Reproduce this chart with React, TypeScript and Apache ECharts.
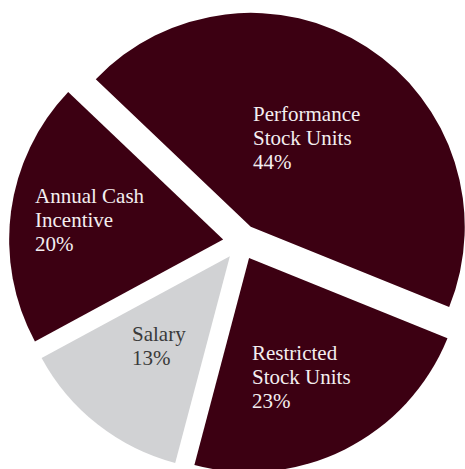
import React, { useEffect, useRef } from "react";
import * as echarts from "echarts";

const categories = [
  "Performance\nStock Units",
  "Restricted\nStock Units",
  "Salary",
  "Annual Cash\nIncentive",
];
const values = [44, 23, 13, 20];
const sliceColors = ["#3c0012", "#3c0012", "#d1d2d4", "#3c0012"];
const labelColors = ["#f3eef0", "#f3eef0", "#3a3a3a", "#f3eef0"];
const labelPos = [
  [253, 102],
  [252, 341],
  [132, 322],
  [35, 184],
];

export default function App() {
  const ref = useRef<HTMLDivElement>(null);
  useEffect(() => {
    if (!ref.current) return;
    const chart = echarts.init(ref.current, null, { renderer: "svg" });
    chart.setOption({
      animation: false,
      backgroundColor: "#ffffff",
      series: [
        {
          type: "pie",
          center: [241, 242],
          radius: 214,
          startAngle: 136.4,
          clockwise: true,
          selectedMode: "multiple",
          selectedOffset: 18,
          avoidLabelOverlap: false,
          emphasis: { disabled: true },
          select: { itemStyle: { borderWidth: 0 } },
          label: { show: false },
          labelLine: { show: false },
          data: categories.map((c, i) => ({
            name: c,
            value: values[i],
            selected: true,
            itemStyle: { color: sliceColors[i], borderWidth: 0 },
            select: { itemStyle: { color: sliceColors[i], borderWidth: 0 } },
          })),
        },
      ],
      graphic: categories.map((c, i) => ({
        type: "text",
        x: labelPos[i][0],
        y: labelPos[i][1],
        silent: true,
        z: 100,
        style: {
          text: `${c}\n${values[i]}%`,
          fill: labelColors[i],
          fontFamily: "Liberation Serif",
          fontSize: 21,
          lineHeight: 24,
          align: "left",
          verticalAlign: "top",
        },
      })),
    });
    return () => chart.dispose();
  }, []);
  return (
    <div
      ref={ref}
      style={{ position: "fixed", left: 0, top: 0, width: 465, height: 469 }}
    />
  );
}
